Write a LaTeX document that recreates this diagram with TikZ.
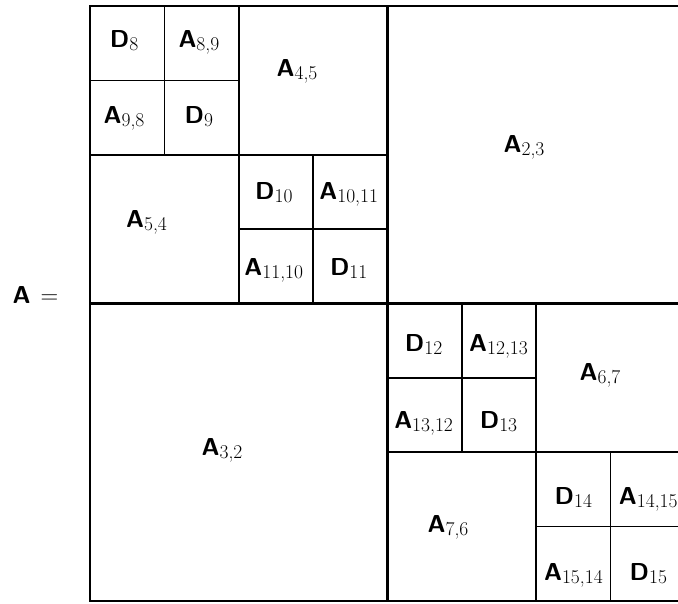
\documentclass[tikz,border=0pt]{standalone}
\newcommand{\Mx}[2]{\textsf{\textbf{#1}}\raisebox{-3pt}{\fontsize{19.5}{22}\selectfont\rmfamily #2}}
\tikzset{
  lbl/.style={inner sep=0pt, anchor=base, font=\fontsize{24.5}{28}\selectfont},
  outerline/.style={line width=2.6pt},
  lvone/.style={line width=2.2pt},
  lvtwo/.style={line width=2pt},
  lvthree/.style={line width=1.7pt}
}
\begin{document}
\begin{tikzpicture}[x=1pt,y=-1pt]
\useasboundingbox (0,0) rectangle (678,604);
\def\u{74.375}
% level 3 crosses
\foreach \k in {0,2,4,6}{
  \draw[lvthree] ({90+(\k+1)*\u},{6+\k*\u}) -- ({90+(\k+1)*\u},{6+(\k+2)*\u});
  \draw[lvthree] ({90+\k*\u},{6+(\k+1)*\u}) -- ({90+(\k+2)*\u},{6+(\k+1)*\u});
}
% level 2 crosses
\foreach \k in {0,4}{
  \draw[lvtwo] ({90+(\k+2)*\u},{6+\k*\u}) -- ({90+(\k+2)*\u},{6+(\k+4)*\u});
  \draw[lvtwo] ({90+\k*\u},{6+(\k+2)*\u}) -- ({90+(\k+4)*\u},{6+(\k+2)*\u});
}
% level 1 cross
\draw[lvone] ({90+4*\u},6) -- ({90+4*\u},{6+8*\u});
\draw[lvone] (90,{6+4*\u}) -- ({90+8*\u},{6+4*\u});
% outer border
\draw[outerline] (90,6) rectangle ({90+8*\u},{6+8*\u});

% small labels
\foreach \i/\j/\a/\s [count=\n] in {
  0/0/D/8, 1/0/A/{8,9}, 0/1/A/{9,8}, 1/1/D/9,
  2/2/D/10, 3/2/A/{10,11}, 2/3/A/{11,10}, 3/3/D/11,
  4/4/D/12, 5/4/A/{12,13}, 4/5/A/{13,12}, 5/5/D/13,
  6/6/D/14, 7/6/A/{14,15}, 6/7/A/{15,14}, 7/7/D/15}{
  \node[lbl] (s\n) at ({124+74.9*\i},{48+76*\j}) {\Mx{\a}{\s}};
}
% big labels
\node[lbl] (a45) at (297,77) {\Mx{A}{4,5}};
\node[lbl] (a23) at (524,153) {\Mx{A}{2,3}};
\node[lbl] (a54) at (146.5,228) {\Mx{A}{5,4}};
\node[lbl] (a32) at (222,455) {\Mx{A}{3,2}};
\node[lbl] (a67) at (600,381) {\Mx{A}{6,7}};
\node[lbl] (a76) at (448,532) {\Mx{A}{7,6}};
% A =
\node[lbl, anchor=base west] (lhs) at (12.5,304) {\textsf{\textbf{A}}\hspace{10pt}{\rmfamily =}};
\end{tikzpicture}
\end{document}
